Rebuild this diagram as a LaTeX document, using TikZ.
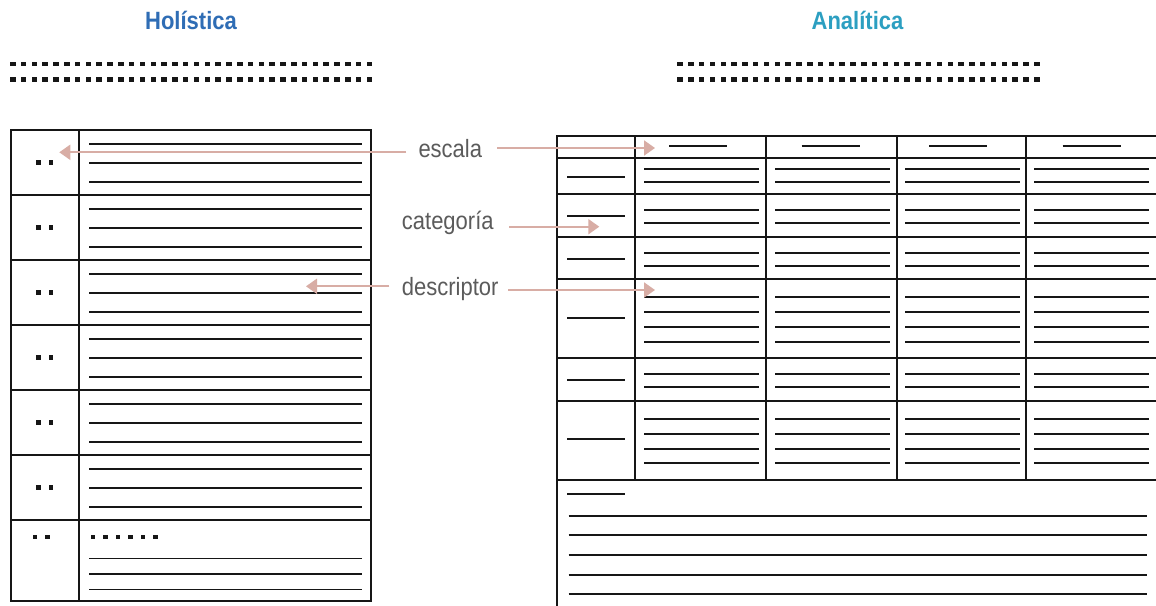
\documentclass[tikz,border=0pt]{standalone}
\usepackage{fontspec}
\setmainfont{Liberation Sans}
\newfontfamily\cond[FakeStretch=0.88]{Liberation Sans}
\usetikzlibrary{arrows.meta}
\definecolor{holblue}{HTML}{2F6DB5}
\definecolor{anateal}{HTML}{2C9FC1}
\definecolor{lblgray}{HTML}{5B5B5B}
\definecolor{arrowpink}{HTML}{D8ADA5}
\definecolor{ink}{HTML}{161616}
\begin{document}
\begin{tikzpicture}[x=1pt,y=-1pt,
  title/.style={font=\cond\bfseries\fontsize{25}{30}\selectfont, anchor=base, inner sep=0pt},
  lbl/.style={font=\cond\fontsize{25}{30}\selectfont, text=lblgray, anchor=base west, inner sep=0pt},
  arr/.style={draw=arrowpink, line width=2pt, -{Triangle[length=11pt,width=15pt]}},
  tblL/.style={draw=ink, line width=1.3pt},
  lnL/.style={draw=ink, line width=1.3pt},
  tblR/.style={draw=ink, line width=2pt},
  lnR/.style={draw=ink, line width=1.9pt},
  sq/.style={fill=ink}]
\useasboundingbox (0,0) rectangle (1156,605);
\clip (0,0) rectangle (1156,605);
\fill[white] (0,0) rectangle (1156,605);

% titles
\node[title, text=holblue] (hol) at (191,29.3) {Holística};
\node[title, text=anateal] (ana) at (857.5,29.3) {Analítica};

% dotted rules
\foreach \xs in {10,677.3}
  \foreach \y in {64,79.3}
    \foreach \i in {0,...,33}
      \fill[sq] (\xs+\i*10.81,\y-2.25) rectangle ++(5.5,4.5);

% ---------- left table (holistic) ----------
\draw[tblL] (11,130) rectangle (371,601);
\draw[tblL] (79,130) -- (79,601);
\foreach \y in {195,260,325,390,455,520}
  \draw[tblL] (11,\y) -- (371,\y);
\foreach \t in {130,195,260,325,390,455} {
  \foreach \o in {14,33,52}
    \draw[lnL] (89,\t+\o) -- (362,\t+\o);
  \fill[sq] (36.3,\t+30.3) rectangle ++(4.5,4.5);
  \fill[sq] (48.5,\t+30.3) rectangle ++(4.5,4.5);
}
% last row
\fill[sq] (32.8,534.5) rectangle ++(4.5,4.5);
\fill[sq] (45.2,534.5) rectangle ++(4.5,4.5);
\foreach \i in {0,...,5}
  \fill[sq] (90.7+\i*12.5,534.5) rectangle ++(4.5,4.5);
\foreach \y in {558.3,574,589.7}
  \draw[lnL] (89,\y) -- (362,\y);

% ---------- right table (analytic) ----------
\foreach \y in {136,158,194,237,279,358,401,480}
  \draw[tblR] (557,\y) -- (1162,\y);
\draw[tblR] (557,135) -- (557,610);
\foreach \x in {635,765.5,897,1026}
  \draw[tblR] (\x,136) -- (\x,480);
% header short lines
\foreach \c in {698,830.5,958,1091.5}
  \draw[lnR] (\c-29,145.7) -- (\c+29,145.7);
% cell lines
\foreach \cl in {644,775,905,1034}
  \foreach \y in {169.3,182.3,210,222.7,252.7,265.7,296.7,312,327,342,374,387,419,434,448.7,463.3}
    \draw[lnR] (\cl,\y) -- (\cl+115,\y);
% first column short lines
\foreach \y in {176.7,215.7,259,317.7,380,439,494}
  \draw[lnR] (567,\y) -- (625,\y);
% bottom section long lines
\foreach \y in {515.7,535.3,555,574.7,594.3}
  \draw[lnR] (568.5,\y) -- (1147,\y);

% ---------- labels and arrows ----------
\node[lbl] (escala) at (418.3,157.3) {escala};
\node[lbl] (categoria) at (401.7,229.3) {categoría};
\node[lbl] (descriptor) at (401.7,295.5) {descriptor};

\coordinate (escLs) at (406,152.3);
\coordinate (escLe) at (59.3,152.3);
\coordinate (escRs) at (497,148);
\coordinate (escRe) at (655,148);
\coordinate (catRs) at (509,226.7);
\coordinate (catRe) at (599.3,226.7);
\coordinate (desLs) at (389.3,286.3);
\coordinate (desLe) at (306,286.3);
\coordinate (desRs) at (508.3,290);
\coordinate (desRe) at (655,290);

\draw[arr] (escLs) -- (escLe);
\draw[arr] (escRs) -- (escRe);
\draw[arr] (catRs) -- (catRe);
\draw[arr] (desLs) -- (desLe);
\draw[arr] (desRs) -- (desRe);
\end{tikzpicture}
\end{document}
